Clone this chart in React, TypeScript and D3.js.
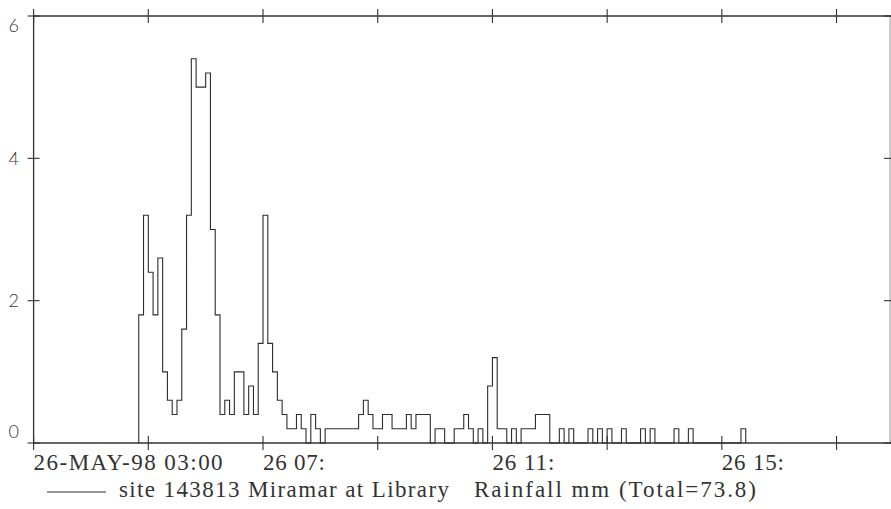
import React from "react";
import * as d3 from "d3";

// 5-minute rainfall totals (mm), first interval starting 26-May-98 04:50
const startTime = new Date(1998, 4, 26, 4, 50);
const intervalMinutes = 5;
const rainfall = [
  1.8, 3.2, 2.4, 1.8, 2.6, 1.0, 0.6, 0.4, 0.6, 1.6,
  3.2, 5.4, 5.0, 5.0, 5.2, 3.0, 1.8, 0.4, 0.6, 0.4,
  1.0, 1.0, 0.4, 0.8, 0.4, 1.4, 3.2, 1.4, 1.0, 0.6,
  0.4, 0.2, 0.2, 0.4, 0.2, 0, 0.4, 0.2, 0, 0.2,
  0.2, 0.2, 0.2, 0.2, 0.2, 0.2, 0.4, 0.6, 0.4, 0.2,
  0.2, 0.4, 0.4, 0.2, 0.2, 0.2, 0.4, 0.2, 0.4, 0.4,
  0.4, 0, 0.2, 0.2, 0, 0, 0.2, 0.2, 0.4, 0.2,
  0, 0.2, 0, 0.8, 1.2, 0.2, 0.2, 0, 0.2, 0,
  0.2, 0.2, 0.2, 0.4, 0.4, 0.4, 0, 0, 0.2, 0,
  0.2, 0, 0, 0, 0.2, 0, 0.2, 0, 0.2, 0,
  0, 0.2, 0, 0, 0, 0.2, 0, 0.2, 0, 0,
  0, 0, 0.2, 0, 0, 0.2, 0, 0, 0, 0,
  0, 0, 0, 0, 0, 0, 0.2,
];

const domainStart = new Date(1998, 4, 26, 3, 0);
const domainEnd = new Date(1998, 4, 26, 18, 0);
const yTicks = [0, 2, 4, 6];
const xTickHours = [3, 5, 7, 9, 11, 13, 15, 17];
const xLabelHours = [3, 7, 11, 15];
const xLabels = ["26-MAY-98 03:00", "26 07:", "26 11:", "26 15:"];
const xLabelWidths = [189, 62, 62, 62];
const legendSite = "site 143813 Miramar at Library";
const legendVariable = "Rainfall mm (Total=73.8)";

export default function App() {
  const W = 891;
  const H = 509;
  const left = 33.6;
  const right = 890;
  const top = 16;
  const bottom = 443;

  const x = d3.scaleTime().domain([domainStart, domainEnd]).range([left, 893.9]);
  const y = d3.scaleLinear().domain([0, 6]).range([bottom, top]);

  const pts: [Date, number][] = rainfall.map((v, i) => [
    d3.timeMinute.offset(startTime, i * intervalMinutes),
    v,
  ]);
  pts.unshift([startTime, 0]);
  pts.push([d3.timeMinute.offset(startTime, rainfall.length * intervalMinutes), 0]);

  const line = d3
    .line<[Date, number]>()
    .x((d) => x(d[0]))
    .y((d) => y(d[1]))
    .curve(d3.curveStepAfter);

  const axisColor = "#333";
  const textColor = "#333";
  const serif = "'Liberation Serif', 'Times New Roman', serif";
  const hourDate = (h: number) => new Date(1998, 4, 26, h, 0);

  return (
    <svg
      width={W}
      height={H}
      style={{ position: "absolute", left: 0, top: 0, background: "#fff" }}
    >
      <rect x={0} y={0} width={W} height={H} fill="#fff" />
      {/* frame */}
      <line x1={left} x2={right + 2} y1={top} y2={top} stroke={axisColor} strokeWidth={1.3} />
      <line x1={left} x2={right + 2} y1={bottom} y2={bottom} stroke={axisColor} strokeWidth={1.3} />
      <line x1={left} x2={left} y1={top} y2={bottom} stroke={axisColor} strokeWidth={1.3} />
      <line x1={right} x2={right} y1={top} y2={bottom} stroke={axisColor} strokeWidth={1} opacity={0.5} />

      {/* x ticks top and bottom */}
      {xTickHours.map((h) => {
        const xx = x(hourDate(h));
        return (
          <g key={"xt" + h}>
            <line x1={xx} x2={xx} y1={top - 7} y2={top + 7} stroke={axisColor} strokeWidth={1.1} />
            <line x1={xx} x2={xx} y1={bottom - 7} y2={bottom + 7} stroke={axisColor} strokeWidth={1.1} />
          </g>
        );
      })}

      {/* y ticks left and right */}
      {yTicks.map((v) => {
        const yy = y(v);
        const ly = Math.min(Math.max(yy, 26), 432);
        return (
          <g key={"yt" + v}>
            <line x1={left - 6} x2={left + 6} y1={yy} y2={yy} stroke={axisColor} strokeWidth={1.1} />
            <line x1={right - 6} x2={right + 4} y1={yy} y2={yy} stroke={axisColor} strokeWidth={1.1} />
            <text
              x={19}
              y={ly}
              dy="0.36em"
              textAnchor="end"
              fontFamily="Lato, 'Open Sans', sans-serif"
              fontWeight={300}
              fontSize={18}
              fill={textColor}
            >
              {v}
            </text>
          </g>
        );
      })}

      {/* x labels */}
      {xLabelHours.map((h, i) => (
        <text
          key={"xl" + h}
          x={x(hourDate(h))}
          y={470}
          textAnchor="start"
          fontFamily={serif}
          fontSize={23}
          textLength={xLabelWidths[i]}
          lengthAdjust="spacing"
          fill={textColor}
        >
          {xLabels[i]}
        </text>
      ))}

      {/* data */}
      <path d={line(pts) || ""} fill="none" stroke="#2e2e2e" strokeWidth={1.1} />

      {/* legend */}
      <line x1={47} x2={106} y1={492} y2={492} stroke="#2e2e2e" strokeWidth={1.2} />
      <text
        x={119}
        y={497}
        fontFamily={serif}
        fontSize={23}
        textLength={330}
        lengthAdjust="spacing"
        fill={textColor}
      >
        {legendSite}
      </text>
      <text
        x={474}
        y={497}
        fontFamily={serif}
        fontSize={23}
        textLength={282}
        lengthAdjust="spacing"
        fill={textColor}
      >
        {legendVariable}
      </text>
    </svg>
  );
}
